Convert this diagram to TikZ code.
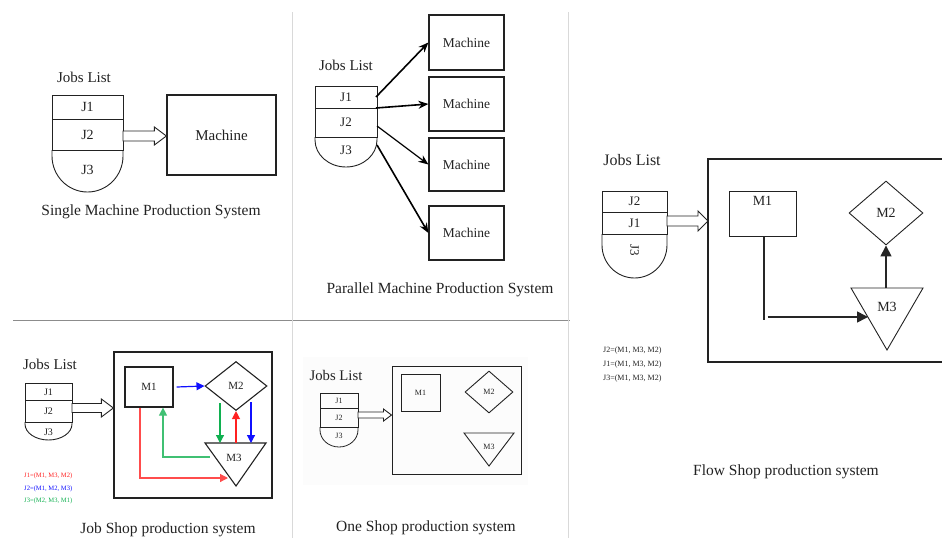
\documentclass[tikz,border=0pt]{standalone}
\usepackage{fontspec}
\setmainfont{Liberation Serif}
\usetikzlibrary{shapes.geometric,arrows.meta,calc}
\newcommand\myfs[1]{\fontsize{#1}{#1}\selectfont}
\definecolor{ink}{HTML}{222222}
\definecolor{jred}{HTML}{FF2020}
\definecolor{jblue}{HTML}{1010FF}
\definecolor{jgreen}{HTML}{10B050}
\begin{document}
\begin{tikzpicture}[x=1pt,y=-1pt,
  every node/.style={text=ink, inner sep=0pt},
  box/.style={draw=ink, line width=1.2pt, inner sep=0pt},
  stk/.style={draw=ink, line width=0.9pt},
  lbl/.style={text=ink},
  hollow/.style n args={3}{draw=ink, line width=0.9pt, fill=white,
    to path={let \p1=(\tikztostart), \p2=(\tikztotarget) in
      (\x1,{\y1+#1}) -- ({\x2-#3},{\y1+#1}) -- ({\x2-#3},{\y1+#2}) -- (\x2,\y1)
      -- ({\x2-#3},{\y1-#2}) -- ({\x2-#3},{\y1-#1}) -- (\x1,{\y1-#1}) -- cycle}},
  par/.style={draw=black, line width=1.6pt, -{Stealth[length=10pt,width=8pt]}},
  flow/.style={draw=black!85, line width=1.6pt, -{Triangle[length=11pt,width=11pt]}},
  jarr/.style={line width=1.2pt, -{Triangle[length=8pt,width=8pt]}},
  divider/.style={line width=0.9pt}
]
\useasboundingbox (0,0) rectangle (942,538);

% dividers
\draw[divider, draw=black!45] (13,320) -- (570,320);
\draw[divider, draw=black!15] (292,12) -- (292,538);
\draw[divider, draw=black!15] (568,12) -- (568,538);

%%%%%%%% Panel 1: single machine
\node[font=\myfs{15}] (p1jl) at (84,77) {Jobs List};
\draw[stk] (52,95) rectangle (123,150);
\draw[stk] (52,119) -- (123,119);
\draw[stk] (52,150) -- (52,156) arc[start angle=180,end angle=360,x radius=35.5pt,y radius=36pt] -- (123,150);
\node[font=\myfs{14}] (p1j1) at (87.5,107) {J1};
\node[font=\myfs{14}] (p1j2) at (87.5,135) {J2};
\node[font=\myfs{14}] (p1j3) at (87.5,170) {J3};
\coordinate (p1out) at (123,136);
\node[box, minimum width=109pt, minimum height=80pt, font=\myfs{15}] (p1m) at (221.5,135) {Machine};
\draw[hollow={5pt}{9pt}{12pt}] (p1out) to (p1m.west);
\node[font=\myfs{15.5}] (p1cap) at (151,212) {Single Machine Production System};

%%%%%%%% Panel 2: parallel machines
\node[font=\myfs{15}] (p2jl) at (346,65) {Jobs List};
\draw[stk] (315,86) rectangle (377,137);
\draw[stk] (315,108) -- (377,108);
\draw[stk] (315,137) -- (315,140) arc[start angle=180,end angle=360,x radius=31pt,y radius=27pt] -- (377,137);
\node[font=\myfs{13}] (p2j1) at (346,97) {J1};
\node[font=\myfs{13}] (p2j2) at (346,122) {J2};
\node[font=\myfs{13}] (p2j3) at (346,150) {J3};
\node[box, minimum width=75pt, minimum height=55pt, font=\myfs{13.5}] (pm1) at (466.5,42.5) {Machine};
\node[box, minimum width=75pt, minimum height=54pt, font=\myfs{13.5}] (pm2) at (466.5,104) {Machine};
\node[box, minimum width=75pt, minimum height=53pt, font=\myfs{13.5}] (pm3) at (466.5,164.5) {Machine};
\node[box, minimum width=75pt, minimum height=54pt, font=\myfs{13.5}] (pm4) at (466.5,233) {Machine};
\coordinate (p2o1) at (376,97);
\coordinate (p2o2) at (376,108);
\coordinate (p2o3) at (377,126);
\coordinate (p2o4) at (377,145);
\draw[par] (p2o1) -- (pm1.west);
\draw[par] (p2o2) -- (pm2.west);
\draw[par, line width=1.2pt] (p2o3) -- (pm3.west);
\draw[par] (p2o4) -- (pm4.west);
\node[font=\myfs{15.5}] (p2cap) at (440,290) {Parallel Machine Production System};

%%%%%%%% Panel 3: flow shop
\node[font=\myfs{16}] (p3jl) at (632,160) {Jobs List};
\draw[stk] (602,191) rectangle (667,234);
\draw[stk] (602,212) -- (667,212);
\draw[stk] (602,234) -- (602,245) arc[start angle=180,end angle=360,x radius=32.5pt,y radius=33pt] -- (667,234);
\node[font=\myfs{13}] (p3j2) at (634.5,201.5) {J2};
\node[font=\myfs{13}] (p3j1) at (634.5,223) {J1};
\node[font=\myfs{13}, rotate=-90] (p3j3) at (634.5,250) {J3};
\draw[box] (942,159) -- (708,159) -- (708,362) -- (942,362);
\coordinate (p3out) at (667,221);
\coordinate (p3in) at (708,221);
\draw[hollow={5pt}{10pt}{10pt}] (p3out) to (p3in);
\node[draw=ink, line width=0.9pt, minimum width=67pt, minimum height=45pt,
  label={[anchor=north, yshift=-6pt, font=\myfs{14}]north:M1}] (fm1) at (762.5,213.5) {};
\node[draw=ink, line width=0.9pt, diamond, minimum width=74pt, minimum height=64pt, font=\myfs{14}] (fm2) at (886,213) {M2};
\draw[draw=ink, line width=0.9pt] (851,288) -- (923,288) -- (887,350) -- cycle;
\node[font=\myfs{14}] (fm3) at (887,307) {M3};
\coordinate (fm3top) at (886,288);
\coordinate (fm3in) at (868,317);
\coordinate (fdown) at ([xshift=1pt]fm1.south);
\draw[draw=black!85, line width=2pt] (fdown) -- ([yshift=-3pt]fdown |- fm3in);
\draw[flow] ([xshift=4pt]fdown |- fm3in) -- (fm3in);
\draw[flow] (fm3top) -- (fm2.south);
\node[font=\myfs{8}, anchor=west] (fs1) at (603,351) {J2=(M1, M3, M2)};
\node[font=\myfs{8}, anchor=west] (fs2) at (603,365) {J1=(M1, M3, M2)};
\node[font=\myfs{8}, anchor=west] (fs3) at (603,379) {J3=(M1, M3, M2)};
\node[font=\myfs{15.5}] (p3cap) at (786,472) {Flow Shop production system};

%%%%%%%% Panel 4: job shop
\node[font=\myfs{15}] (p4jl) at (50,364) {Jobs List};
\draw[stk] (25,383) rectangle (72,422);
\draw[stk] (25,400) -- (72,400);
\draw[stk] (25,422) -- (25,424) arc[start angle=180,end angle=360,x radius=23.5pt,y radius=16pt] -- (72,422);
\node[font=\myfs{10}] (p4j1) at (48.5,392) {J1};
\node[font=\myfs{10}] (p4j2) at (48.5,411.5) {J2};
\node[font=\myfs{10}] (p4j3) at (48.5,432) {J3};
\node[box, minimum width=158pt, minimum height=146pt] (p4box) at (193,425) {};
\coordinate (p4out) at (72,408);
\draw[hollow={4.5pt}{9pt}{12pt}] (p4out) to (p4box.west |- p4out);
\node[box, minimum width=48pt, minimum height=40pt, font=\myfs{11}] (jm1) at (149,387) {M1};
\node[draw=ink, line width=1.1pt, diamond, minimum width=62pt, minimum height=49pt, font=\myfs{11}] (jm2) at (236,386) {M2};
\draw[draw=ink, line width=1.1pt] (205,443) -- (266,443) -- (236,486) -- cycle;
\node[font=\myfs{11}] (jm3) at (234,458) {M3};
\coordinate (jb1) at (251,402);
\coordinate (jb2) at (251,443);
\coordinate (jg1) at (220,403);
\coordinate (jg2) at (220,443);
\coordinate (jr1) at (236,443);
\coordinate (jg3) at (210,457);
\coordinate (jr3) at (228,478);
\draw[jarr, jblue] ([xshift=3pt]jm1.east) -- (jm2.west);
\draw[jarr, jblue] (jb1) -- (jb2);
\draw[jarr, jgreen] (jg1) -- (jg2);
\draw[jarr, jred] (jr1) -- (jm2.south);
\draw[jarr, jgreen!80!white] (jg3) -| ([xshift=14pt]jm1.south);
\draw[jarr, jred!80!white] ([xshift=-9pt]jm1.south) |- (jr3);
\node[font=\myfs{6.6}, anchor=west, text=jred] (js1) at (24,476) {J1=(M1, M3, M2)};
\node[font=\myfs{6.6}, anchor=west, text=jblue] (js2) at (24,489) {J2=(M1, M2, M3)};
\node[font=\myfs{6.6}, anchor=west, text=jgreen] (js3) at (24,501) {J3=(M2, M3, M1)};
\node[font=\myfs{15.5}] (p4cap) at (168,530) {Job Shop production system};

%%%%%%%% Panel 5: one shop
\fill[black!1] (303,357) rectangle (528,485);
\node[font=\myfs{14.7}] (p5jl) at (336,375) {Jobs List};
\draw[stk, line width=0.8pt] (320,393) rectangle (358,427);
\draw[stk, line width=0.8pt] (320,408) -- (358,408);
\draw[stk, line width=0.8pt] (320,427) -- (320,430) arc[start angle=180,end angle=360,x radius=19pt,y radius=17pt] -- (358,427);
\node[font=\myfs{8}] (p5j1) at (339,400.5) {J1};
\node[font=\myfs{8}] (p5j2) at (339,418) {J2};
\node[font=\myfs{8}] (p5j3) at (339,436) {J3};
\node[box, line width=1pt, minimum width=129pt, minimum height=108pt] (p5box) at (456.5,420) {};
\coordinate (p5out) at (358,415);
\draw[hollow={3pt}{6pt}{8pt}] (p5out) to (p5box.west |- p5out);
\node[draw=ink, line width=0.9pt, minimum width=39pt, minimum height=37pt, font=\myfs{8}] (om1) at (420.5,392.5) {M1};
\node[draw=ink, line width=0.9pt, diamond, minimum width=48pt, minimum height=42pt, font=\myfs{8}] (om2) at (489,392) {M2};
\draw[draw=ink, line width=0.9pt] (464,433) -- (514,433) -- (489,466) -- cycle;
\node[font=\myfs{8}] (om3) at (489,447) {M3};
\node[font=\myfs{15.5}] (p5cap) at (426,528) {One Shop production system};
\end{tikzpicture}
\end{document}
